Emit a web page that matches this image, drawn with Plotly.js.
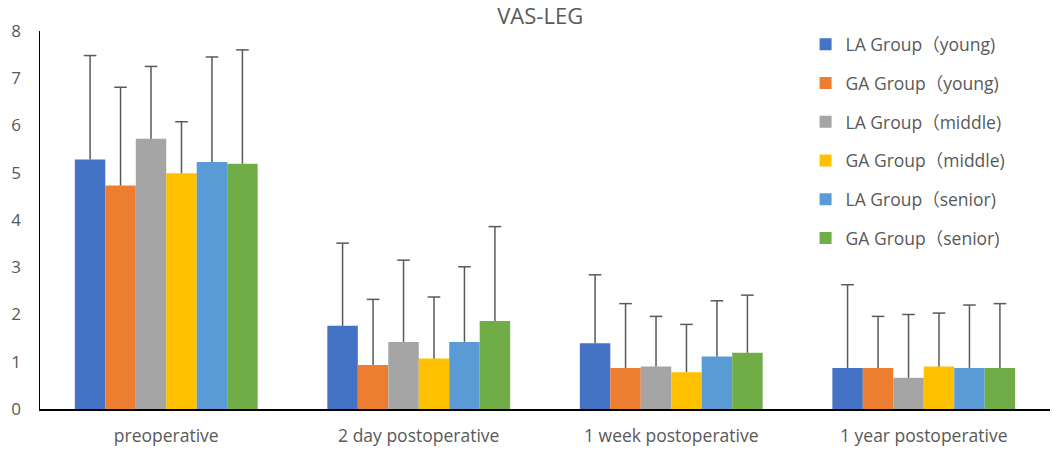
<!DOCTYPE html>
<html>
<head>
<meta charset="utf-8">
<script src="https://cdn.plot.ly/plotly-3.0.1.min.js"></script>
<style>html,body{margin:0;padding:0;background:#fff;} #chart{width:1053px;height:450px;}</style>
</head>
<body>
<div id="chart"></div>
<script>
const categories = ["preoperative", "2 day postoperative", "1 week postoperative", "1 year postoperative"];
const seriesNames = ["LA Group（young)", "GA Group（young)", "LA Group（middle)", "GA Group（middle)", "LA Group（senior)", "GA Group（senior)"];
const laYoung = [5.28, 1.76, 1.39, 0.87];
const gaYoung = [4.73, 0.93, 0.87, 0.87];
const laMiddle = [5.72, 1.42, 0.90, 0.66];
const gaMiddle = [4.99, 1.07, 0.78, 0.90];
const laSenior = [5.23, 1.42, 1.11, 0.87];
const gaSenior = [5.19, 1.86, 1.19, 0.87];
const laYoungSD = [2.20, 1.75, 1.45, 1.76];
const gaYoungSD = [2.08, 1.39, 1.36, 1.09];
const laMiddleSD = [1.53, 1.73, 1.06, 1.34];
const gaMiddleSD = [1.09, 1.30, 1.01, 1.13];
const laSeniorSD = [2.22, 1.59, 1.18, 1.33];
const gaSeniorSD = [2.41, 2.00, 1.22, 1.36];
const yTicks = [0, 1, 2, 3, 4, 5, 6, 7, 8];

const colors = ["#4472C4", "#ED7D31", "#A5A5A5", "#FFC000", "#5B9BD5", "#70AD47"];
const means = [laYoung, gaYoung, laMiddle, gaMiddle, laSenior, gaSenior];
const sds = [laYoungSD, gaYoungSD, laMiddleSD, gaMiddleSD, laSeniorSD, gaSeniorSD];
const FONT = "'Open Sans', 'Noto Sans CJK SC', sans-serif";
const TXT = "#595959";
const ERR = "#595959";
const GAP = 0.276;

const barTraces = means.map((m, i) => ({
  type: 'bar',
  name: seriesNames[i],
  x: categories,
  y: m,
  legendgroup: 'g' + i,
  offsetgroup: 'o' + i,
  marker: {color: colors[i], line: {width: 0}},
  error_y: {
    type: 'data', symmetric: false,
    array: sds[i], arrayminus: sds[i].map(() => 0),
    color: ERR, thickness: 1.5, width: 0
  }
}));

const capTraces = means.map((m, i) => ({
  type: 'scatter', mode: 'markers',
  x: categories,
  y: m.map((v, j) => v + sds[i][j]),
  legendgroup: 'g' + i,
  offsetgroup: 'o' + i,
  showlegend: false, hoverinfo: 'skip',
  marker: {symbol: 'line-ew-open', size: 9, color: ERR, line: {width: 1.5, color: ERR}}
}));

const layout = {
  width: 1053, height: 450,
  margin: {l: 40, r: 3, t: 31, b: 41},
  paper_bgcolor: '#fff', plot_bgcolor: '#fff',
  font: {family: FONT, color: TXT, size: 17},
  title: {text: 'VAS-LEG', x: 0.513, xanchor: 'center', xref: 'container', y: 0.964, yanchor: 'middle',
          font: {family: FONT, size: 22, color: TXT}},
  barmode: 'group', bargap: GAP, bargroupgap: 0,
  scattermode: 'group', scattergap: GAP,
  showlegend: true,
  legend: {x: 0.758, xanchor: 'left', y: 1.012, yanchor: 'top',
           bgcolor: 'rgba(0,0,0,0)', font: {family: FONT, size: 17.5, color: TXT},
           tracegroupgap: 13, itemwidth: 30, traceorder: 'grouped'},
  xaxis: {type: 'category', showline: true, linecolor: '#000', linewidth: 1.5,
          ticks: '', showgrid: false, tickfont: {size: 17.5, color: TXT}, zeroline: false,
          ticklabelstandoff: 10},
  yaxis: {range: [0, 8], tickvals: yTicks, showline: true, linecolor: '#000', linewidth: 1.5,
          ticks: '', showgrid: false, zeroline: false, tickfont: {size: 17, color: TXT},
          ticklabelstandoff: 14}
};

Plotly.newPlot('chart', barTraces.concat(capTraces), layout, {displayModeBar: false, staticPlot: true});
</script>
</body>
</html>
